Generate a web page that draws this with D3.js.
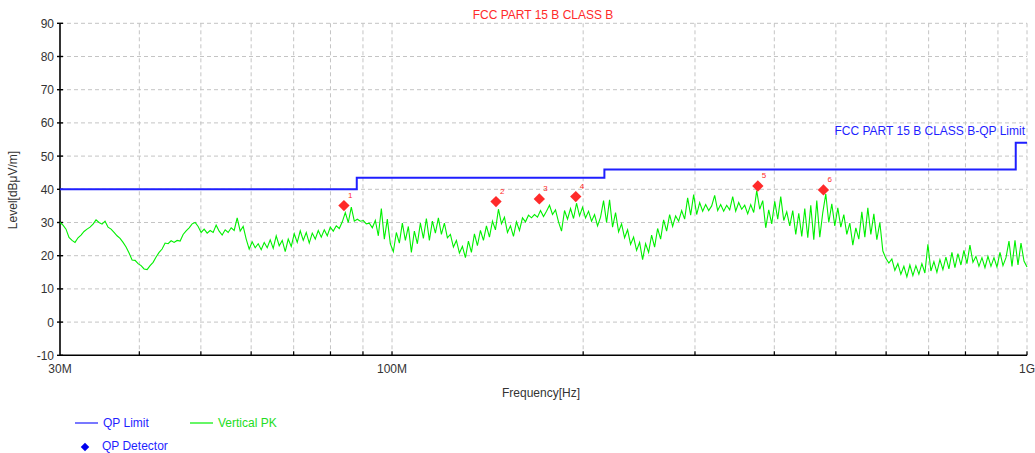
<!DOCTYPE html>
<html>
<head>
<meta charset="utf-8">
<script src="https://cdn.jsdelivr.net/npm/d3@7"></script>
<style>
    body { margin: 0; background: #fff; }
    svg { font-family: 'Liberation Sans', Arial, sans-serif; }
</style>
</head>
<body>
<div class="emi-chart"></div>
<script>
'use strict'

// Axis values.
const yTicks = [-10, 0, 10, 20, 30, 40, 50, 60, 70, 80, 90];
const xTickFreqs = [30, 100, 1000];
const xTickLabels = ['30M', '100M', '1G'];
const gridFreqs = [40, 50, 60, 70, 80, 90, 100, 200, 300, 400, 500, 600, 700, 800, 900, 1000];

// QP limit (MHz, dBuV/m), step after each frequency.
const limitFreqs = [30, 88, 216, 960, 1000];
const limitLevels = [40, 43.5, 46, 54, 54];

// Vertical PK sweep, 30 MHz .. 1 GHz, log spaced points.
const sweepStart = 30, sweepStop = 1000;
const pkLevels = [
    30.0, 29.2, 28.0, 25.5, 24.6, 24.0, 25.4, 26.2, 27.3, 28.0,
    28.6, 29.5, 30.8, 30.0, 29.5, 30.4, 28.6, 28.0, 27.0, 26.0,
    25.2, 24.0, 22.6, 20.8, 18.7, 18.6, 17.6, 17.0, 16.0, 15.8,
    17.0, 18.0, 19.6, 21.0, 22.0, 23.8, 23.6, 24.5, 24.0, 24.6,
    24.4, 26.4, 27.5, 28.4, 29.6, 30.0, 28.8, 27.0, 28.0, 26.8,
    27.6, 27.0, 29.2, 27.4, 26.2, 27.8, 27.0, 28.4, 27.6, 31.4,
    27.4, 28.8, 25.0, 22.0, 24.2, 22.4, 23.6, 21.8, 24.0, 22.4,
    24.8, 22.2, 26.0, 23.0, 24.6, 21.2, 25.0, 22.8, 26.6, 24.0,
    27.5, 24.6,
    27.0, 23.8, 26.8, 25.0, 27.6, 25.6, 27.8, 26.0, 28.6, 27.4,
    29.0, 28.2, 30.2, 33.0, 30.0, 34.6, 30.4, 31.0, 30.4, 30.6,
    29.6, 29.8, 28.4, 30.6, 26.0, 34.2, 25.0, 31.0, 23.6, 21.2,
    27.0, 23.8, 29.8, 24.6, 28.8, 21.0, 27.4, 23.6, 29.8, 25.2,
    31.2, 24.6, 30.4, 26.8, 31.4, 26.4, 29.8, 25.4, 26.4, 22.6,
    24.6, 20.8, 22.8, 19.4, 24.4, 21.0, 26.6, 23.0, 27.6, 24.6,
    29.0, 25.6, 30.4, 27.8, 34.0, 29.6, 31.6, 27.0, 29.0, 25.8,
    30.2, 27.6, 31.4, 30.2, 32.2, 31.4, 32.4, 31.6, 33.6, 31.8,
    33.4, 35.2, 32.4, 33.8, 30.2, 27.4, 33.6, 31.0, 34.2, 31.2,
    35.8, 32.0, 34.6, 31.4, 33.4, 30.4, 32.4, 29.0, 31.6, 36.6,
    30.0, 36.8, 28.6, 33.0, 27.2, 29.6, 25.4, 27.8, 23.4, 25.6,
    21.6, 24.0, 18.8, 23.6, 21.0, 26.2, 22.6, 28.2, 25.0, 30.8,
    27.4, 32.4, 28.8, 32.0, 30.4, 33.6, 31.0, 37.4, 32.2, 38.4,
    32.4, 36.0, 33.4, 35.4, 33.6, 35.0, 38.2, 33.6, 35.4, 33.4,
    35.2, 33.8, 37.8, 33.4, 36.0, 34.0, 35.2, 32.6, 35.4, 33.0,
    39.6, 34.0, 36.6, 28.4, 33.8, 29.6, 36.4, 31.0, 37.8, 30.6,
    33.2, 29.0, 33.6, 26.4, 32.8, 25.8, 34.2, 25.4, 35.2, 24.8,
    36.6, 25.6, 33.0, 38.6, 30.0, 35.6, 29.0, 34.4, 28.6, 32.4,
    26.4, 29.8, 23.2, 28.4, 25.0, 33.2, 25.6, 34.4, 26.4, 32.6,
    24.8, 30.0, 21.4, 19.2, 17.8, 19.0, 15.6, 17.6, 14.4, 16.8,
    13.6, 17.2, 14.0, 17.0, 14.4, 17.6, 14.8, 23.4, 15.4, 18.2,
    15.0, 18.8, 15.8, 19.6, 16.0, 21.0, 16.4, 20.6, 17.2, 21.6,
    17.6, 23.2, 18.0, 19.8, 16.8, 19.4, 16.4, 19.8, 16.8, 19.4,
    16.6, 21.0, 17.0, 19.4, 24.4, 16.8, 24.6, 17.2, 23.8, 18.4,
    16.6
];

// QP detector readings.
const markerIds = [1, 2, 3, 4, 5, 6];
const markerFreqs = [84.0, 145.8, 170.6, 194.7, 376.8, 478.0];
const markerLevels = [35.1, 36.3, 37.1, 37.8, 41.0, 39.8];

// Set dimensions and margins.
let width = 1035,
    height = 453,
    margin = {top: 23.3, right: 8, bottom: 97.7, left: 60};

let blue = '#1f1fff',
    green = '#00f000',
    red = '#ff2a2a',
    gridColor = '#c4c4c4';

// Build SVG.
let svg = d3.select('.emi-chart')
    .append('svg')
        .attr('width', width)
        .attr('height', height);

// Build scales.
let x = d3.scaleLog()
    .domain([sweepStart, sweepStop])
    .range([margin.left, width - margin.right]);

let y = d3.scaleLinear()
    .domain([-10, 90])
    .range([height - margin.bottom, margin.top]);

// Grid.
let grid = svg.append('g')
    .attr('stroke', gridColor)
    .attr('stroke-dasharray', '4,3')
    .attr('stroke-width', 1);

grid.selectAll('line.h')
    .data(yTicks.filter(d => d > -10))
    .join('line')
        .attr('class', 'h')
        .attr('x1', x(sweepStart))
        .attr('x2', x(sweepStop))
        .attr('y1', d => y(d))
        .attr('y2', d => y(d));

grid.selectAll('line.v')
    .data(gridFreqs)
    .join('line')
        .attr('class', 'v')
        .attr('x1', d => x(d))
        .attr('x2', d => x(d))
        .attr('y1', y(90))
        .attr('y2', y(-10));

// Axes.
let axes = svg.append('g')
    .attr('stroke', '#000');

axes.append('line')
    .attr('x1', x(sweepStart)).attr('x2', x(sweepStart))
    .attr('y1', y(90)).attr('y2', y(-10))
    .attr('stroke-width', 1.6);

axes.append('line')
    .attr('x1', x(sweepStart)).attr('x2', x(sweepStop))
    .attr('y1', y(-10)).attr('y2', y(-10))
    .attr('stroke-width', 1.6);

axes.selectAll('line.yt')
    .data(yTicks)
    .join('line')
        .attr('class', 'yt')
        .attr('x1', x(sweepStart) - 3)
        .attr('x2', x(sweepStart) + 3)
        .attr('y1', d => y(d))
        .attr('y2', d => y(d))
        .attr('stroke-width', 1.4);

axes.selectAll('line.xt')
    .data(gridFreqs)
    .join('line')
        .attr('class', 'xt')
        .attr('x1', d => x(d))
        .attr('x2', d => x(d))
        .attr('y1', y(-10))
        .attr('y2', y(-10) - 4)
        .attr('stroke-width', 1.2);

svg.append('g')
    .selectAll('text')
    .data(yTicks)
    .join('text')
        .attr('x', x(sweepStart) - 6)
        .attr('y', d => y(d) + 4.5)
        .attr('text-anchor', 'end')
        .attr('font-size', 12)
        .attr('fill', '#333')
        .text(d => d);

svg.append('g')
    .selectAll('text')
    .data(xTickFreqs)
    .join('text')
        .attr('x', d => x(d))
        .attr('y', y(-10) + 18)
        .attr('text-anchor', 'middle')
        .attr('font-size', 12)
        .attr('fill', '#333')
        .text((d, i) => xTickLabels[i]);

// Axis titles.
svg.append('text')
    .attr('x', 541)
    .attr('y', 397)
    .attr('text-anchor', 'middle')
    .attr('font-size', 12)
    .attr('fill', '#333')
    .text('Frequency[Hz]');

svg.append('text')
    .attr('transform', 'translate(17, 190) rotate(-90)')
    .attr('text-anchor', 'middle')
    .attr('font-size', 12)
    .attr('fill', '#333')
    .text('Level[dBμV/m]');

svg.append('text')
    .attr('x', 543)
    .attr('y', 19)
    .attr('text-anchor', 'middle')
    .attr('font-size', 12)
    .attr('fill', red)
    .text('FCC PART 15 B CLASS B');

// PK trace.
let pkData = pkLevels.map((v, i) => ({
    freq: sweepStart * Math.pow(sweepStop / sweepStart, i / (pkLevels.length - 1)),
    level: v
}));

svg.append('path')
    .datum(pkData)
    .attr('fill', 'none')
    .attr('stroke', green)
    .attr('stroke-width', 1.1)
    .attr('d', d3.line().x(d => x(d.freq)).y(d => y(d.level)));

// Limit line.
let limitData = limitFreqs.map((f, i) => ({freq: f, level: limitLevels[i]}));

svg.append('path')
    .datum(limitData)
    .attr('fill', 'none')
    .attr('stroke', blue)
    .attr('stroke-width', 2)
    .attr('d', d3.line().curve(d3.curveStepAfter).x(d => x(d.freq)).y(d => y(d.level)));

svg.append('text')
    .attr('x', 1025)
    .attr('y', 135)
    .attr('text-anchor', 'end')
    .attr('font-size', 12)
    .attr('fill', blue)
    .text('FCC PART 15 B CLASS B-QP Limit');

// QP markers.
let markers = svg.append('g')
    .selectAll('g')
    .data(markerIds)
    .join('g')
        .attr('transform', (d, i) => `translate(${x(markerFreqs[i])}, ${y(markerLevels[i])})`);

markers.append('rect')
    .attr('x', -4).attr('y', -4)
    .attr('width', 8).attr('height', 8)
    .attr('transform', 'rotate(45)')
    .attr('fill', red);

markers.append('text')
    .attr('x', 4)
    .attr('y', -8)
    .attr('font-size', 8)
    .attr('fill', red)
    .text(d => d);

// Legend.
let legend = svg.append('g')
    .attr('font-size', 12);

legend.append('line')
    .attr('x1', 75).attr('x2', 98)
    .attr('y1', 423).attr('y2', 423)
    .attr('stroke', blue).attr('stroke-width', 1.2);

legend.append('text')
    .attr('x', 103).attr('y', 427)
    .attr('fill', blue)
    .text('QP Limit');

legend.append('line')
    .attr('x1', 190).attr('x2', 213)
    .attr('y1', 423).attr('y2', 423)
    .attr('stroke', green).attr('stroke-width', 1.2);

legend.append('text')
    .attr('x', 218).attr('y', 427)
    .attr('fill', '#22dd22')
    .text('Vertical PK');

legend.append('rect')
    .attr('x', -3).attr('y', -3)
    .attr('width', 6).attr('height', 6)
    .attr('transform', 'translate(85, 447) rotate(45)')
    .attr('fill', '#0000ee');

legend.append('text')
    .attr('x', 102).attr('y', 450)
    .attr('fill', blue)
    .text('QP Detector');
</script>
</body>
</html>
